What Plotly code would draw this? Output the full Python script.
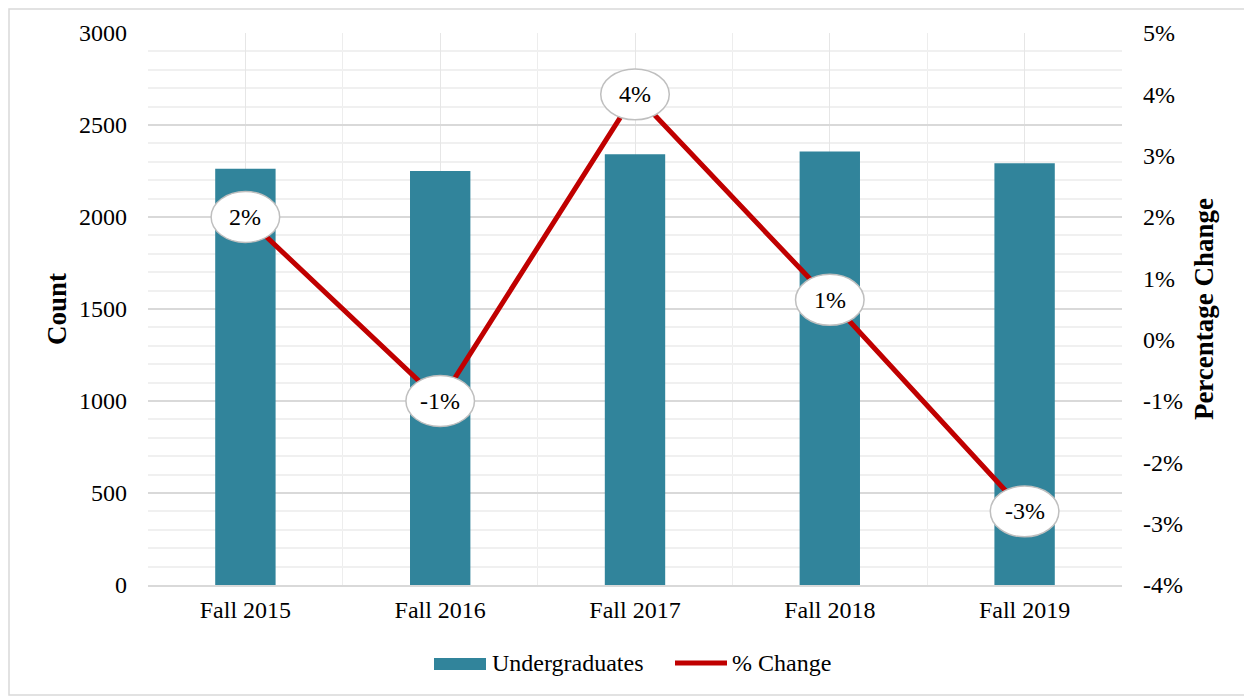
import plotly.graph_objects as go

categories = ["Fall 2015", "Fall 2016", "Fall 2017", "Fall 2018", "Fall 2019"]
undergraduates = [2262, 2250, 2341, 2356, 2292]
pct_change = [2.0, -1.0, 4.0, 0.65, -2.8]
pct_labels = ["2%", "-1%", "4%", "1%", "-3%"]
left_ticks = [0, 500, 1000, 1500, 2000, 2500, 3000]
right_ticks = [-4, -3, -2, -1, 0, 1, 2, 3, 4, 5]

FONT = "Liberation Serif"
BAR_COLOR = "#31849B"
LINE_COLOR = "#C00000"

# page has 8px body margin; figure placed so plot area sits at page x 148..1122, y 33..585
OFF = 8
W, H = 1244, 690
PL, PR, PT, PB = 148 - OFF, 1122 - OFF, 33 - OFF, 585 - OFF


def pxp(page_x):
    return (page_x - OFF - PL) / (PR - PL)


def pyp(page_y):
    return (PB - (page_y - OFF)) / (PB - PT)


xs = list(range(len(categories)))

fig = go.Figure()
fig.add_trace(go.Bar(
    x=xs, y=undergraduates, name="Undergraduates",
    marker=dict(color=BAR_COLOR, line=dict(width=0)), width=0.31,
    showlegend=False,
))
fig.add_trace(go.Scatter(
    x=xs, y=pct_change, name="% Change", yaxis="y2", mode="lines",
    line=dict(color=LINE_COLOR, width=5), showlegend=False,
))

shapes = []
annotations = []
for i, (v, lab) in enumerate(zip(pct_change, pct_labels)):
    shapes.append(dict(
        type="circle", xref="x", yref="y2",
        x0=i - 0.176, x1=i + 0.176, y0=v - 0.415, y1=v + 0.415,
        fillcolor="white", line=dict(color="#BFBFBF", width=1.5), layer="above",
    ))
    annotations.append(dict(
        x=i, y=v, xref="x", yref="y2", text=lab, showarrow=False,
        font=dict(family=FONT, size=24, color="#000000"),
    ))

# outer chart border
shapes.append(dict(
    type="rect", xref="paper", yref="paper",
    x0=pxp(OFF + 1), x1=pxp(1246), y0=pyp(695), y1=pyp(OFF + 1),
    line=dict(color="#D9D9D9", width=1.5), fillcolor="rgba(0,0,0,0)", layer="below",
))

# custom legend
shapes.append(dict(
    type="rect", xref="paper", yref="paper",
    x0=pxp(434), x1=pxp(486), y0=pyp(670), y1=pyp(658),
    fillcolor=BAR_COLOR, line=dict(width=0),
))
shapes.append(dict(
    type="line", xref="paper", yref="paper",
    x0=pxp(675), x1=pxp(727), y0=pyp(663), y1=pyp(663),
    line=dict(color=LINE_COLOR, width=5),
))
annotations.append(dict(
    x=pxp(490), y=pyp(663), xref="paper", yref="paper", xanchor="left", yanchor="middle",
    text="Undergraduates", showarrow=False, font=dict(family=FONT, size=24, color="#000000"),
))
annotations.append(dict(
    x=pxp(730), y=pyp(663), xref="paper", yref="paper", xanchor="left", yanchor="middle",
    text="% Change", showarrow=False, font=dict(family=FONT, size=24, color="#000000"),
))

fig.update_layout(
    width=W, height=H,
    margin=dict(l=PL, r=W - PR, t=PT, b=H - PB, autoexpand=False),
    paper_bgcolor="white", plot_bgcolor="white",
    font=dict(family=FONT, size=24, color="#000000"),
    bargap=0.69,
    showlegend=False,
    xaxis=dict(
        range=[-0.5, 4.5], tickvals=xs, ticktext=categories,
        showgrid=True, gridcolor="#E6E6E6", gridwidth=1,
        minor=dict(dtick=0.5, tick0=-0.5, showgrid=True, gridcolor="#EDEDED", gridwidth=1),
        showline=True, linecolor="#D9D9D9", linewidth=1.5,
        ticks="", ticklabelstandoff=2,
        tickfont=dict(family=FONT, size=24),
        zeroline=False,
    ),
    yaxis=dict(
        range=[0, 3000], tickvals=left_ticks,
        showgrid=True, gridcolor="#D9D9D9", gridwidth=1.5,
        minor=dict(dtick=100, showgrid=True, gridcolor="#F0F0F0", gridwidth=1.5),
        ticks="", ticklabelstandoff=20,
        tickfont=dict(family=FONT, size=24),
        title=dict(text="<b>Count</b>", font=dict(family=FONT, size=27), standoff=4),
        zeroline=False,
    ),
    yaxis2=dict(
        range=[-4, 5], tickvals=right_ticks,
        ticktext=[f"{t}%" for t in right_ticks],
        overlaying="y", side="right", showgrid=False, zeroline=False,
        ticks="", ticklabelstandoff=20,
        tickfont=dict(family=FONT, size=24),
        title=dict(text="<b>Percentage Change</b>", font=dict(family=FONT, size=27), standoff=12),
    ),
    shapes=shapes,
    annotations=annotations,
)

fig.write_html("out.html")
